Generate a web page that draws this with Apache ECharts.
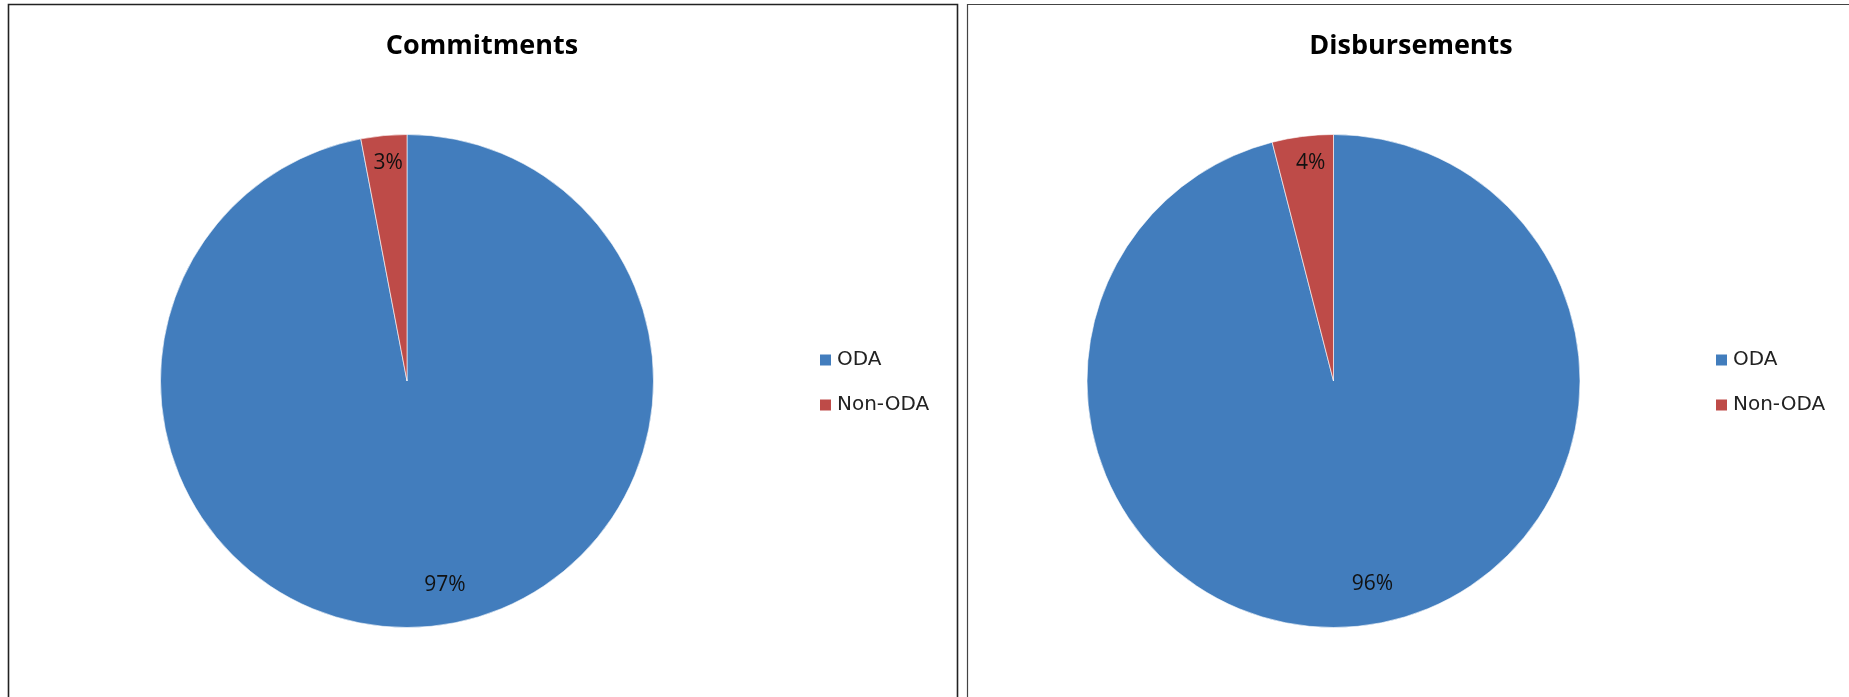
<!DOCTYPE html>
<html>
<head>
<meta charset="utf-8">
<script src="https://cdn.jsdelivr.net/npm/echarts@6/dist/echarts.min.js"></script>
<style>
html, body { margin: 0; padding: 0; background: #fff; }
#main { width: 1849px; height: 697px; }
</style>
</head>
<body>
<div id="main"></div>
<script>
// data
const categories = ['ODA', 'Non-ODA'];
const commitments = [97, 3];
const disbursements = [96, 4];
const chartTitles = ['Commitments', 'Disbursements'];

const colors = ['#427DBD', '#BE4B48'];

// nudge percent labels from the ring middle towards Excel's placement
const labelShift = [
    [{ dx: 26, dy: 78 }, { dx: -7, dy: -92 }],
    [{ dx: 23, dy: 78 }, { dx: -7, dy: -93 }]
];

const toItems = (vals) => vals.map((v, i) => ({ name: categories[i], value: v }));

const pieSeries = (vals, cx, k) => ({
    type: 'pie',
    center: [cx, 381],
    radius: 246.5,
    startAngle: 90,
    clockwise: true,
    avoidLabelOverlap: false,
    data: toItems(vals),
    itemStyle: { borderColor: '#fff', borderWidth: 0.6 },
    label: {
        position: 'inside',
        formatter: '{d}%',
        color: '#111',
        fontFamily: 'Open Sans',
        fontSize: 21
    },
    labelLine: { show: false },
    labelLayout: (p) => labelShift[k][p.dataIndex],
    emphasis: { scale: false }
});

const legendOf = (left) => ({
    orient: 'vertical',
    left: left,
    top: 350,
    padding: 0,
    itemWidth: 13,
    itemHeight: 13,
    itemGap: 25,
    icon: 'rect',
    data: categories,
    textStyle: { fontFamily: 'DejaVu Sans', fontSize: 20, lineHeight: 20, color: '#222' }
});

const titleOf = (text, x) => ({
    text: text,
    left: x,
    top: 33,
    padding: 0,
    textAlign: 'center',
    textStyle: { fontFamily: 'Open Sans', fontWeight: 'bold', fontSize: 27, color: '#000' }
});

const option = {
    animation: false,
    color: colors,
    title: [titleOf(chartTitles[0], 482), titleOf(chartTitles[1], 1411)],
    legend: [legendOf(818), legendOf(1714)],
    graphic: [
        { type: 'rect', shape: { x: 8.5, y: 4.5, width: 949, height: 720 },
          style: { fill: null, stroke: '#222', lineWidth: 1.6 }, silent: true },
        { type: 'rect', shape: { x: 967.5, y: 4.5, width: 1000, height: 720 },
          style: { fill: null, stroke: '#444', lineWidth: 1.2 }, silent: true }
    ],
    series: [pieSeries(commitments, 407, 0), pieSeries(disbursements, 1333.5, 1)]
};

echarts.init(document.getElementById('main')).setOption(option);
</script>
</body>
</html>
